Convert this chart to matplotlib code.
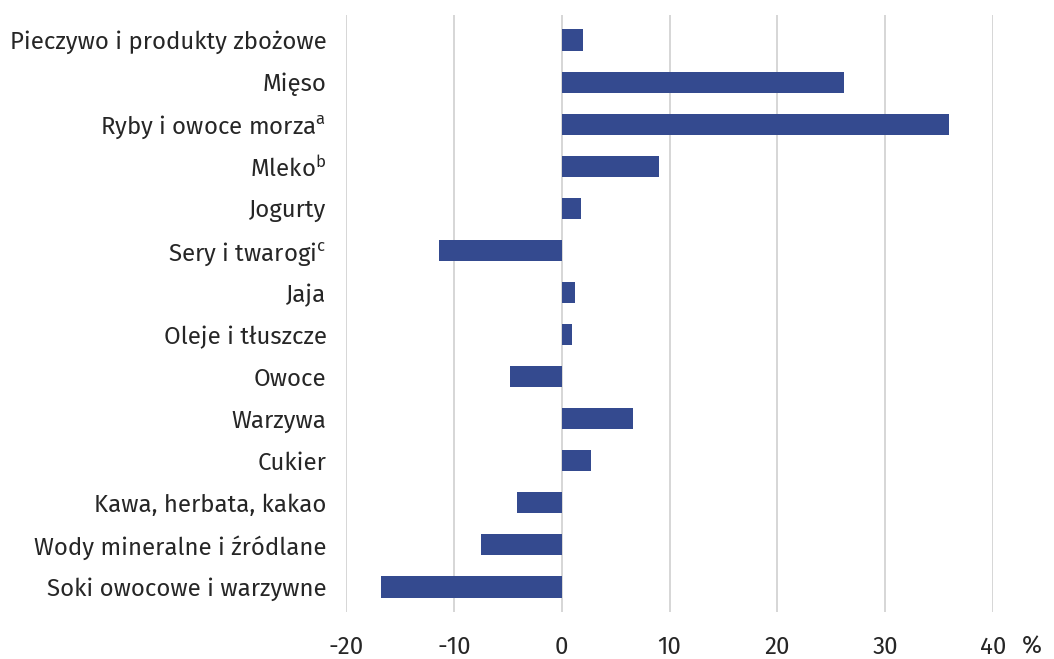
import matplotlib
matplotlib.use("Agg")
import matplotlib.pyplot as plt
import matplotlib.transforms as mtransforms

plt.rcParams['font.family'] = ['Fira Sans', 'Open Sans', 'DejaVu Sans']
plt.rcParams['mathtext.default'] = 'regular'

categories = [
    "Pieczywo i produkty zbożowe",
    "Mięso",
    r"Ryby i owoce morza$^{a}$",
    r"Mleko$^{b}$",
    "Jogurty",
    r"Sery i twarogi$^{c}$",
    "Jaja",
    "Oleje i tłuszcze",
    "Owoce",
    "Warzywa",
    "Cukier",
    "Kawa, herbata, kakao",
    "Wody mineralne i źródlane",
    "Soki owocowe i warzywne",
]
values = [2.0, 26.2, 35.9, 9.0, 1.8, -11.4, 1.2, 1.0, -4.8, 6.6, 2.7, -4.1, -7.5, -16.8]
xticks = [-20, -10, 0, 10, 20, 30, 40]

fig = plt.figure(figsize=(10.54, 6.59), dpi=100)
ax = fig.add_axes([346/1054, 1-612/659, (993-346)/1054, (612-15)/659])

pos = list(range(len(categories)))
ax.barh(pos, values, height=0.5, color='#344a8f', zorder=3)
ax.set_ylim(len(categories) - 1 + 0.594, -0.594)
ax.set_xlim(-20, 40)
ax.set_xticks(xticks)
ax.set_xticklabels([str(t) for t in xticks])
ax.set_yticks(pos)
ax.set_yticklabels(categories)
ax.grid(axis='x', color='#d0d0d0', linewidth=1.2, zorder=0)
for s in ax.spines.values():
    s.set_visible(False)
ax.tick_params(axis='both', length=0, labelsize=17.3, colors='#262626')
ax.tick_params(axis='x', pad=17)
ax.tick_params(axis='y', pad=14)
off = mtransforms.offset_copy(ax.transAxes, fig=fig, x=0, y=-17, units='points')
ax.text(1.0 + 39/647, 0, "%", transform=off, fontsize=17.3,
        color='#262626', ha='center', va='top')

fig.savefig("out.png", dpi=100)
